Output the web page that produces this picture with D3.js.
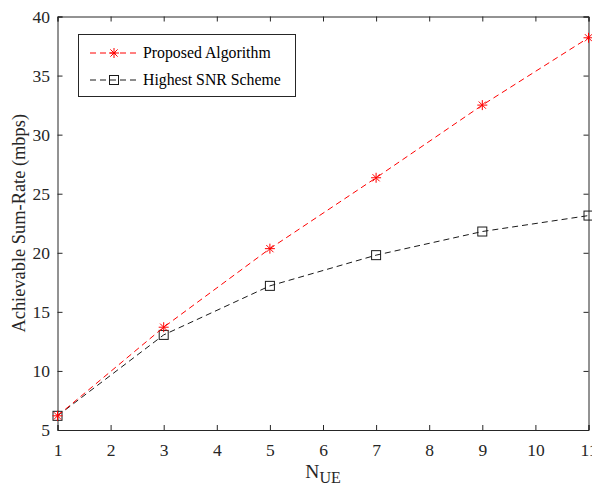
<!DOCTYPE html>
<html>
<head>
<meta charset="utf-8">
<script src="https://cdn.jsdelivr.net/npm/d3@7"></script>
<style>
  html, body { margin: 0; padding: 0; background: #fff; overflow: hidden; }
  svg { display: block; font-family: "Liberation Serif", "Times New Roman", serif; }
</style>
</head>
<body>
<svg id="chart" width="592" height="489"></svg>
<script>
// Number of user equipments
const nUE = [1, 3, 5, 7, 9, 11];
// Achievable sum-rate (mbps) per scheme
const proposed = [6.2, 13.7, 20.35, 26.35, 32.5, 38.2];
const highestSNR = [6.2, 13.05, 17.2, 19.8, 21.8, 23.15];
// Axis ticks
const xTicks = [1, 2, 3, 4, 5, 6, 7, 8, 9, 10, 11];
const yTicks = [5, 10, 15, 20, 25, 30, 35, 40];
const seriesNames = ["Proposed Algorithm", "Highest SNR Scheme"];

const axisColor = "#262626";
const margin = { left: 57.5, right: 3.5, top: 16.5, bottom: 59 };
const W = 592, H = 489;

const svg = d3.select("#chart");
const x = d3.scaleLinear().domain([1, 11]).range([margin.left, W - margin.right]);
const y = d3.scaleLinear().domain([5, 40]).range([H - margin.bottom, margin.top]);

const x0 = x.range()[0], x1 = x.range()[1];
const y0 = y.range()[0], y1 = y.range()[1];
const tickLen = 5;

// Axes: bottom/left with labels, top/right mirror ticks only
const gx = svg.append("g").attr("transform", `translate(0,${y0})`)
  .call(d3.axisBottom(x).tickValues(xTicks).tickSize(-tickLen).tickPadding(14).tickFormat(d3.format("d")));
const gy = svg.append("g").attr("transform", `translate(${x0},0)`)
  .call(d3.axisLeft(y).tickValues(yTicks).tickSize(-tickLen).tickPadding(7.5).tickFormat(d3.format("d")));
const gxt = svg.append("g").attr("transform", `translate(0,${y1})`)
  .call(d3.axisTop(x).tickValues(xTicks).tickSize(-tickLen).tickFormat(""));
const gyr = svg.append("g").attr("transform", `translate(${x1},0)`)
  .call(d3.axisRight(y).tickValues(yTicks).tickSize(-tickLen).tickFormat(""));

[gx, gy, gxt, gyr].forEach(g => {
  g.select(".domain").attr("stroke", axisColor).attr("stroke-width", 1);
  g.selectAll(".tick line").attr("stroke", axisColor).attr("stroke-width", 1);
  g.selectAll(".tick text").attr("fill", axisColor)
    .style("font-family", "Liberation Serif, serif").style("font-size", "17.5px");
});

// Axis titles
svg.append("text")
  .attr("transform", `translate(25,${(y0 + y1) / 2}) rotate(-90)`)
  .attr("text-anchor", "middle")
  .attr("fill", axisColor)
  .style("font-size", "18.4px")
  .text("Achievable Sum-Rate (mbps)");

const xl = svg.append("text")
  .attr("x", (x0 + x1) / 2)
  .attr("y", 477.5)
  .attr("text-anchor", "middle")
  .attr("fill", axisColor)
  .style("font-size", "19.5px");
xl.append("tspan").text("N");
xl.append("tspan").attr("dy", 5.5).style("font-size", "16px").text("UE");

// Data series
const series = [
  { name: seriesNames[0], values: proposed, color: "#ff0000", marker: "star" },
  { name: seriesNames[1], values: highestSNR, color: "#1a1a1a", marker: "square" }
];

const line = d3.line().x((d, i) => x(nUE[i])).y(d => y(d));

function drawMarker(g, type, cx, cy, color) {
  if (type === "star") {
    const r = 5;
    const p = [
      [cx - r, cy, cx + r, cy],
      [cx, cy - r, cx, cy + r],
      [cx - r * 0.72, cy - r * 0.72, cx + r * 0.72, cy + r * 0.72],
      [cx - r * 0.72, cy + r * 0.72, cx + r * 0.72, cy - r * 0.72]
    ];
    p.forEach(s => g.append("line")
      .attr("x1", s[0]).attr("y1", s[1]).attr("x2", s[2]).attr("y2", s[3])
      .attr("stroke", color).attr("stroke-width", 1));
  } else {
    const s = 9;
    g.append("rect").attr("x", cx - s / 2).attr("y", cy - s / 2)
      .attr("width", s).attr("height", s)
      .attr("fill", "none").attr("stroke", color).attr("stroke-width", 1);
  }
}

// Draw black series first so the red one sits on top
[series[1], series[0]].forEach(s => {
  const g = svg.append("g");
  g.append("path").datum(s.values)
    .attr("d", line)
    .attr("fill", "none")
    .attr("stroke", s.color)
    .attr("stroke-width", 1)
    .attr("stroke-dasharray", "6,4");
  s.values.forEach((v, i) => drawMarker(g, s.marker, x(nUE[i]), y(v), s.color));
});

// Legend
const lg = svg.append("g");
lg.append("rect").attr("x", 78.5).attr("y", 34.5).attr("width", 217).attr("height", 62)
  .attr("fill", "#fff").attr("stroke", axisColor).attr("stroke-width", 1);
series.forEach((s, i) => {
  const ly = 53 + i * 27;
  lg.append("line").attr("x1", 90).attr("x2", 137).attr("y1", ly).attr("y2", ly)
    .attr("stroke", s.color).attr("stroke-width", 1).attr("stroke-dasharray", "6,4");
  drawMarker(lg, s.marker, 114, ly, s.color);
  lg.append("text").attr("x", 143).attr("y", ly + 5)
    .attr("fill", "#000").style("font-size", "15.8px").text(s.name);
});
</script>
</body>
</html>
